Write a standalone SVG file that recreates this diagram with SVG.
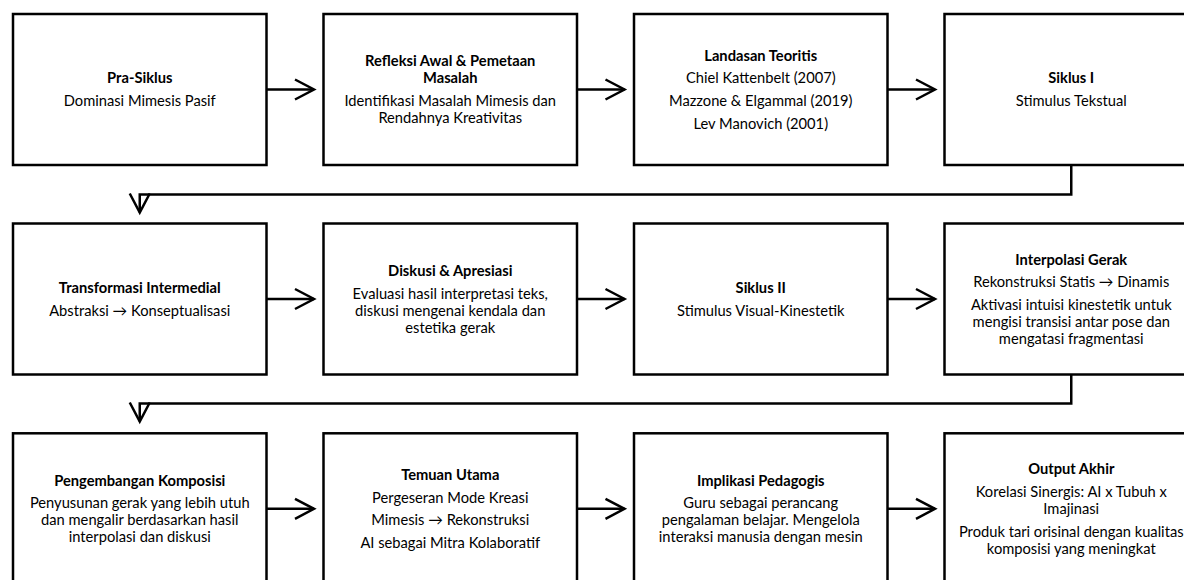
<svg xmlns="http://www.w3.org/2000/svg" width="1184" height="580" viewBox="0 0 1184 580">
<defs>
<style>
.box{fill:#fff;stroke:#000;stroke-width:2.5}
.con{fill:none;stroke:#000;stroke-width:2.5}
.t{font-family:Lato,"Liberation Sans",sans-serif;font-size:14.7px;text-anchor:middle;fill:#000}
.b{font-weight:bold}
</style>
<marker id="chev" markerUnits="userSpaceOnUse" markerWidth="30" markerHeight="30" viewBox="-25 -15 30 30" refX="0" refY="0" orient="auto" overflow="visible">
<path d="M-19,-10 L0,0 L-19,10" fill="none" stroke="#000" stroke-width="2.5"/>
</marker>
</defs>
<rect width="1184" height="580" fill="#fff"/>

<g id="connectors">
<path class="con" d="M266.5,89.5 H314" marker-end="url(#chev)"/>
<path class="con" d="M577,89.5 H624.5" marker-end="url(#chev)"/>
<path class="con" d="M887.5,89.5 H935" marker-end="url(#chev)"/>
<path class="con" d="M1071.25,165 V194.5 H139.75 V212.5" marker-end="url(#chev)"/>
<path class="con" d="M266.5,299 H314" marker-end="url(#chev)"/>
<path class="con" d="M577,299 H624.5" marker-end="url(#chev)"/>
<path class="con" d="M887.5,299 H935" marker-end="url(#chev)"/>
<path class="con" d="M1071.25,374.5 V403.5 H139.75 V421.5" marker-end="url(#chev)"/>
<path class="con" d="M266.5,508.8 H314" marker-end="url(#chev)"/>
<path class="con" d="M577,508.8 H624.5" marker-end="url(#chev)"/>
<path class="con" d="M887.5,508.8 H935" marker-end="url(#chev)"/>
</g>

<g id="n1">
<rect class="box" x="13" y="14" width="253.5" height="151"/>
<text class="t b" x="139.75" y="83.3">Pra-Siklus</text>
<text class="t" x="139.75" y="106">Dominasi Mimesis Pasif</text>
</g>
<g id="n2">
<rect class="box" x="323.5" y="14" width="253.5" height="151"/>
<text class="t b" x="450.25" y="66.3">Refleksi Awal &amp; Pemetaan</text>
<text class="t b" x="450.25" y="83.3">Masalah</text>
<text class="t" x="450.25" y="106">Identifikasi Masalah Mimesis dan</text>
<text class="t" x="450.25" y="123">Rendahnya Kreativitas</text>
</g>
<g id="n3">
<rect class="box" x="634" y="14" width="253.5" height="151"/>
<text class="t b" x="760.75" y="60.6">Landasan Teoritis</text>
<text class="t" x="760.75" y="83.3">Chiel Kattenbelt (2007)</text>
<text class="t" x="760.75" y="106">Mazzone &amp; Elgammal (2019)</text>
<text class="t" x="760.75" y="128.7">Lev Manovich (2001)</text>
</g>
<g id="n4">
<rect class="box" x="944.5" y="14" width="253.5" height="151"/>
<text class="t b" x="1071.25" y="83.3">Siklus I</text>
<text class="t" x="1071.25" y="106">Stimulus Tekstual</text>
</g>

<g id="n5">
<rect class="box" x="13" y="223.5" width="253.5" height="151"/>
<text class="t b" x="139.75" y="292.8">Transformasi Intermedial</text>
<text class="t" x="139.75" y="315.5">Abstraksi → Konseptualisasi</text>
</g>
<g id="n6">
<rect class="box" x="323.5" y="223.5" width="253.5" height="151"/>
<text class="t b" x="450.25" y="275.8">Diskusi &amp; Apresiasi</text>
<text class="t" x="450.25" y="298.5">Evaluasi hasil interpretasi teks,</text>
<text class="t" x="450.25" y="315.5">diskusi mengenai kendala dan</text>
<text class="t" x="450.25" y="332.5">estetika gerak</text>
</g>
<g id="n7">
<rect class="box" x="634" y="223.5" width="253.5" height="151"/>
<text class="t b" x="760.75" y="292.8">Siklus II</text>
<text class="t" x="760.75" y="315.5">Stimulus Visual-Kinestetik</text>
</g>
<g id="n8">
<rect class="box" x="944.5" y="223.5" width="253.5" height="151"/>
<text class="t b" x="1071.25" y="264.5">Interpolasi Gerak</text>
<text class="t" x="1071.25" y="287.2">Rekonstruksi Statis → Dinamis</text>
<text class="t" x="1071.25" y="309.9">Aktivasi intuisi kinestetik untuk</text>
<text class="t" x="1071.25" y="326.9">mengisi transisi antar pose dan</text>
<text class="t" x="1071.25" y="343.9">mengatasi fragmentasi</text>
</g>

<g id="n9">
<rect class="box" x="13" y="433.3" width="253.5" height="151"/>
<text class="t b" x="139.75" y="485.6">Pengembangan Komposisi</text>
<text class="t" x="139.75" y="508.3">Penyusunan gerak yang lebih utuh</text>
<text class="t" x="139.75" y="525.3">dan mengalir berdasarkan hasil</text>
<text class="t" x="139.75" y="542.3">interpolasi dan diskusi</text>
</g>
<g id="n10">
<rect class="box" x="323.5" y="433.3" width="253.5" height="151"/>
<text class="t b" x="450.25" y="479.9">Temuan Utama</text>
<text class="t" x="450.25" y="502.6">Pergeseran Mode Kreasi</text>
<text class="t" x="450.25" y="525.3">Mimesis → Rekonstruksi</text>
<text class="t" x="450.25" y="548">AI sebagai Mitra Kolaboratif</text>
</g>
<g id="n11">
<rect class="box" x="634" y="433.3" width="253.5" height="151"/>
<text class="t b" x="760.75" y="485.6">Implikasi Pedagogis</text>
<text class="t" x="760.75" y="508.3">Guru sebagai perancang</text>
<text class="t" x="760.75" y="525.3">pengalaman belajar. Mengelola</text>
<text class="t" x="760.75" y="542.3">interaksi manusia dengan mesin</text>
</g>
<g id="n12">
<rect class="box" x="944.5" y="433.3" width="253.5" height="151"/>
<text class="t b" x="1071.25" y="474.3">Output Akhir</text>
<text class="t" x="1071.25" y="497">Korelasi Sinergis: AI x Tubuh x</text>
<text class="t" x="1071.25" y="514">Imajinasi</text>
<text class="t" x="1071.25" y="536.7">Produk tari orisinal dengan kualitas</text>
<text class="t" x="1071.25" y="553.7">komposisi yang meningkat</text>
</g>
</svg>
